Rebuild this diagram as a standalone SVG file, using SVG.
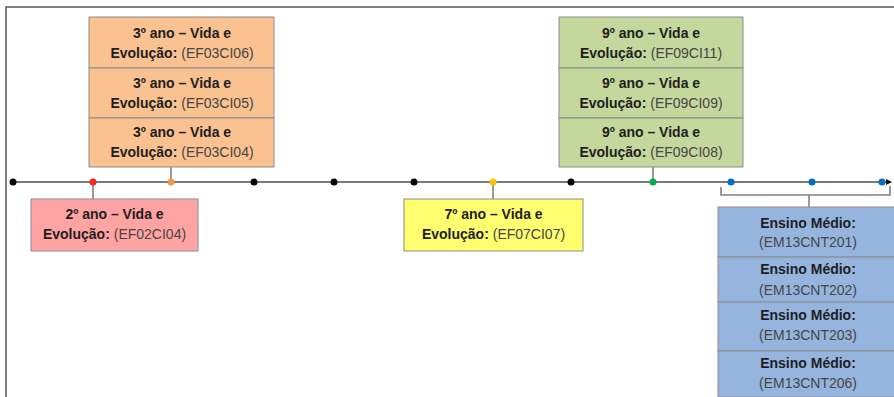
<svg xmlns="http://www.w3.org/2000/svg" width="894" height="397" viewBox="0 0 894 397">
<defs>
<marker id="arr" markerWidth="6" markerHeight="6" refX="5" refY="3" orient="auto" markerUnits="userSpaceOnUse"><path d="M0,0 L6,3 L0,6 Z" fill="#111"/></marker>
<style>
.box{stroke:#8c8c8c;stroke-width:1}
.t{font-family:"Liberation Sans",Arial,sans-serif;font-size:14px;text-anchor:middle;fill:#2a2a2a}
.b{font-weight:bold;fill:#1e1e1e}
.n{font-weight:normal;fill:#454545}
.conn{stroke:#808080;stroke-width:1.6;fill:none}
.frame{stroke:#555;stroke-width:1.5;fill:none}
</style>
</defs>
<rect width="894" height="397" fill="#fff"/>
<path class="frame" d="M6,397 V7 H894"/>

<g id="connectors">
<line x1="13" y1="182" x2="891" y2="182" stroke="#7a7a7a" stroke-width="2" marker-end="url(#arr)"/>
<line class="conn" x1="93" y1="182" x2="93" y2="199"/>
<line class="conn" x1="171" y1="167" x2="171" y2="182"/>
<line class="conn" x1="493" y1="182" x2="493" y2="199"/>
<line class="conn" x1="653" y1="167" x2="653" y2="182"/>
<path class="conn" d="M721,187 V195 H890 V186"/>
<line class="conn" x1="809" y1="195" x2="809" y2="207"/>
</g>

<g id="dots">
<circle cx="13" cy="182" r="3.5" fill="#000"/>
<circle cx="93" cy="182" r="3.5" fill="#ff2020"/>
<circle cx="171" cy="182" r="3.5" fill="#f79646"/>
<circle cx="254" cy="182" r="3.5" fill="#000"/>
<circle cx="334" cy="182" r="3.5" fill="#000"/>
<circle cx="414" cy="182" r="3.5" fill="#000"/>
<circle cx="493" cy="182" r="3.5" fill="#ffc000"/>
<circle cx="571" cy="182" r="3.5" fill="#000"/>
<circle cx="653" cy="182" r="3.5" fill="#00b050"/>
<circle cx="731" cy="182" r="3.5" fill="#0070c0"/>
<circle cx="812" cy="182" r="3.5" fill="#0070c0"/>
<circle cx="882" cy="182" r="3.5" fill="#0070c0"/>
</g>

<g id="ano3-06">
<rect class="box" x="89" y="17" width="185" height="51" fill="#fac191"/>
<text class="t" x="182" y="38"><tspan class="b">3º ano – Vida e</tspan></text>
<text class="t" x="182" y="58"><tspan class="b">Evolução:</tspan><tspan class="n"> (EF03CI06)</tspan></text>
</g>
<g id="ano3-05">
<rect class="box" x="89" y="68" width="185" height="50" fill="#fac191"/>
<text class="t" x="182" y="88"><tspan class="b">3º ano – Vida e</tspan></text>
<text class="t" x="182" y="108"><tspan class="b">Evolução:</tspan><tspan class="n"> (EF03CI05)</tspan></text>
</g>
<g id="ano3-04">
<rect class="box" x="89" y="118" width="185" height="49" fill="#fac191"/>
<text class="t" x="182" y="137"><tspan class="b">3º ano – Vida e</tspan></text>
<text class="t" x="182" y="157"><tspan class="b">Evolução:</tspan><tspan class="n"> (EF03CI04)</tspan></text>
</g>

<g id="ano2">
<rect class="box" x="31" y="199" width="167" height="52" fill="#ffa3a3"/>
<text class="t" x="114.5" y="219"><tspan class="b">2º ano – Vida e</tspan></text>
<text class="t" x="114.5" y="239"><tspan class="b">Evolução:</tspan><tspan class="n"> (EF02CI04)</tspan></text>
</g>

<g id="ano7">
<rect class="box" x="404" y="199" width="179" height="52" fill="#ffff70"/>
<text class="t" x="493.5" y="219"><tspan class="b">7º ano – Vida e</tspan></text>
<text class="t" x="493.5" y="239"><tspan class="b">Evolução:</tspan><tspan class="n"> (EF07CI07)</tspan></text>
</g>

<g id="ano9-11">
<rect class="box" x="559" y="17" width="184" height="51" fill="#c4d79c"/>
<text class="t" x="651" y="38"><tspan class="b">9º ano – Vida e</tspan></text>
<text class="t" x="651" y="58"><tspan class="b">Evolução:</tspan><tspan class="n"> (EF09CI11)</tspan></text>
</g>
<g id="ano9-09">
<rect class="box" x="559" y="68" width="184" height="50" fill="#c4d79c"/>
<text class="t" x="651" y="88"><tspan class="b">9º ano – Vida e</tspan></text>
<text class="t" x="651" y="108"><tspan class="b">Evolução:</tspan><tspan class="n"> (EF09CI09)</tspan></text>
</g>
<g id="ano9-08">
<rect class="box" x="559" y="118" width="184" height="49" fill="#c4d79c"/>
<text class="t" x="651" y="137"><tspan class="b">9º ano – Vida e</tspan></text>
<text class="t" x="651" y="157"><tspan class="b">Evolução:</tspan><tspan class="n"> (EF09CI08)</tspan></text>
</g>

<g id="em201">
<rect class="box" x="718" y="207" width="180" height="50" fill="#95b5de"/>
<text class="t" x="808" y="228"><tspan class="b">Ensino Médio:</tspan></text>
<text class="t" x="808" y="247"><tspan class="n">(EM13CNT201)</tspan></text>
</g>
<g id="em202">
<rect class="box" x="718" y="257" width="180" height="45" fill="#95b5de"/>
<text class="t" x="808" y="274"><tspan class="b">Ensino Médio:</tspan></text>
<text class="t" x="808" y="295"><tspan class="n">(EM13CNT202)</tspan></text>
</g>
<g id="em203">
<rect class="box" x="718" y="302" width="180" height="49" fill="#95b5de"/>
<text class="t" x="808" y="320"><tspan class="b">Ensino Médio:</tspan></text>
<text class="t" x="808" y="340"><tspan class="n">(EM13CNT203)</tspan></text>
</g>
<g id="em206">
<rect class="box" x="718" y="351" width="180" height="46" fill="#95b5de"/>
<text class="t" x="808" y="368"><tspan class="b">Ensino Médio:</tspan></text>
<text class="t" x="808" y="388"><tspan class="n">(EM13CNT206)</tspan></text>
</g>
</svg>
